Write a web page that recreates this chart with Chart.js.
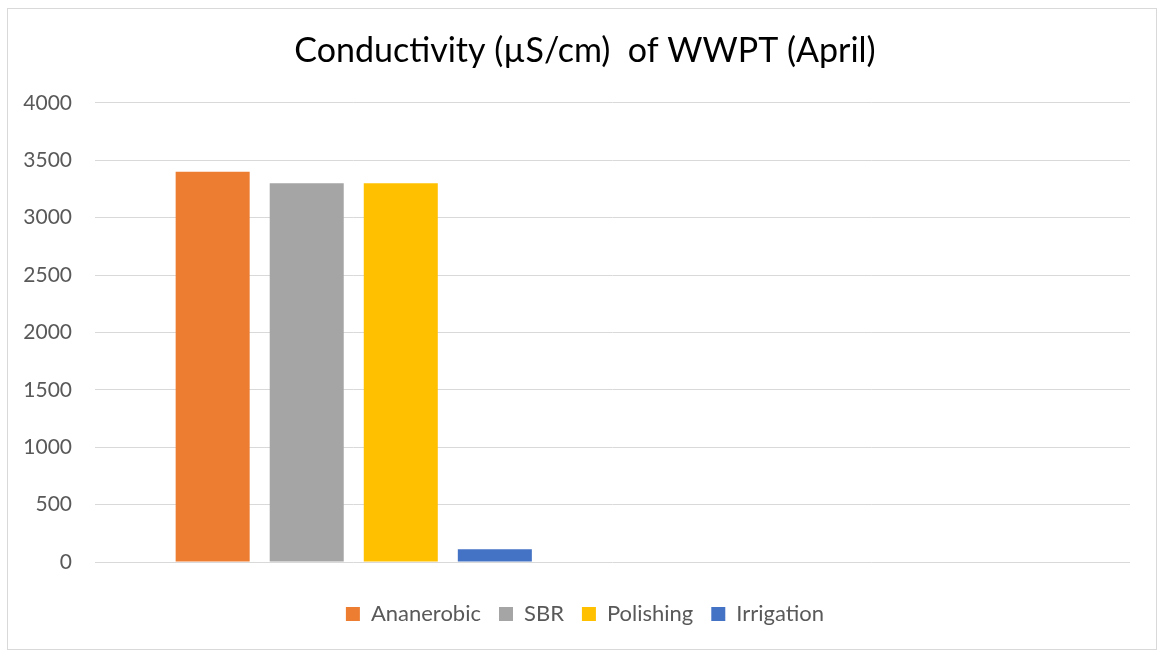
<!DOCTYPE html>
<html>
<head>
<meta charset="utf-8">
<script src="https://cdn.jsdelivr.net/npm/chart.js@4.4.1/dist/chart.umd.min.js"></script>
<style>
  body { margin: 0; background: #ffffff; }
  #marco {
    position: absolute;
    left: 7px; top: 8px;
    width: 1148px; height: 640px;
    border: 1px solid #d9d9d9;
  }
</style>
</head>
<body>
<div id="marco"><canvas id="myChart"></canvas></div>
<script>
// datos del grafico
const categorias = ["", ""];
const nombresSeries = ["Ananerobic", "SBR", "Polishing", "Irrigation"];
const valoresSeries = [3400, 3300, 3300, 110];
const coloresSeries = ["#ED7D31", "#A5A5A5", "#FFC000", "#4472C4"];
const ticksY = [0, 500, 1000, 1500, 2000, 2500, 3000, 3500, 4000];

const tituloGrafico = "Conductivity (\u00b5S/cm)  of WWPT (April)";
const fuente = "Lato, 'Open Sans', sans-serif";

// un dataset por serie, solo la primera categoria tiene valor
const datasets = nombresSeries.map((nombre, i) => ({
  label: nombre,
  data: categorias.map((c, j) => (j === 0 ? valoresSeries[i] : null)),
  backgroundColor: coloresSeries[i],
  borderWidth: 0,
  categoryPercentage: 0.727,
  barPercentage: 0.787,
  yAxisID: "y",
}));

const ctx = document.getElementById("myChart").getContext("2d");

new Chart(ctx, {
  type: "bar",
  data: { labels: categorias, datasets: datasets },
  options: {
    responsive: true,
    maintainAspectRatio: false,
    animation: false,
    layout: { padding: { top: 10, right: 8, left: 14, bottom: 14 } },
    plugins: {
      title: {
        display: true,
        text: tituloGrafico,
        color: "#000000",
        font: { family: fuente, size: 34, weight: "normal" },
        padding: { top: 12, bottom: 31 },
      },
      legend: {
        display: true,
        position: "bottom",
        labels: {
          color: "#595959",
          font: { family: fuente, size: 22 },
          boxWidth: 14,
          boxHeight: 14,
          padding: 18,
        },
      },
      tooltip: { enabled: false },
    },
    scales: {
      x: {
        grid: { display: false, drawTicks: false },
        border: { display: false },
        ticks: { display: false },
        afterFit: (scale) => { scale.height = 23; },
      },
      y: {
        min: 0,
        max: 4000,
        afterBuildTicks: (scale) => { scale.ticks = ticksY.map((v) => ({ value: v })); },
        ticks: {
          color: "#595959",
          font: { family: fuente, size: 21 },
          padding: 23,
          callback: (v) => String(v),
        },
        grid: { color: "#d9d9d9", lineWidth: 1, drawTicks: false },
        border: { display: false },
        afterFit: (scale) => { scale.width = 73; },
      },
      // eje vacio a la derecha, solo para el margen
      yDer: {
        type: "linear",
        position: "right",
        grid: { display: false, drawTicks: false },
        border: { display: false },
        ticks: { display: false },
        afterFit: (scale) => { scale.width = 18; },
      },
    },
  },
});
</script>
</body>
</html>
